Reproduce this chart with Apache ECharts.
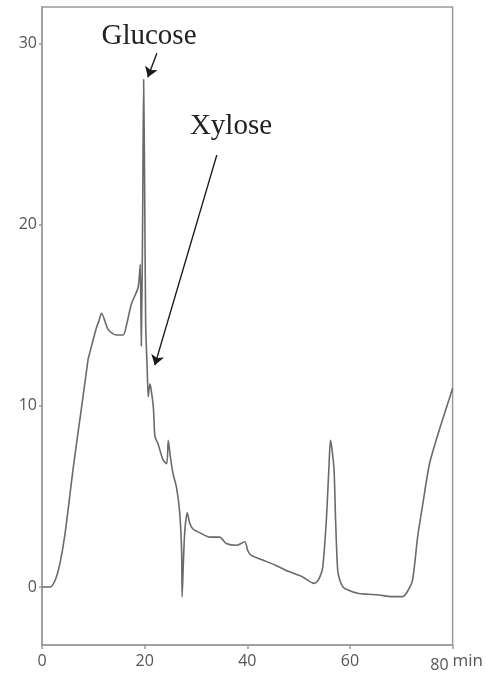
<!DOCTYPE html>
<html><head><meta charset="utf-8">
<script src="https://cdn.jsdelivr.net/npm/echarts@6/dist/echarts.min.js"></script>
<style>html,body{margin:0;padding:0;background:#fff}#c{width:486px;height:679px}</style>
</head><body><div id="c"></div>
<script>
// Retention time (min)
const timeMin = [0, 1.6, 2.6, 3.5, 4.5, 6.1, 7.7, 9.0, 9.1, 10.6, 11.0, 11.6, 12.9, 14.5, 15.8, 16.5, 17.4, 18.7, 19.0, 19.15, 19.35, 19.6, 19.8, 20.0, 20.2, 20.5, 20.7, 21.0, 21.2, 21.7, 22.0, 22.6, 23.6, 24.3, 24.6, 25.0, 25.5, 26.2, 26.8, 27.2, 27.3, 27.5, 27.8, 28.3, 28.8, 29.4, 30.7, 32.7, 34.6, 35.9, 37.9, 39.5, 40.1, 40.7, 42.9, 45.5, 48.1, 50.7, 53.0, 53.6, 54.2, 54.7, 55.4, 55.9, 56.2, 56.5, 56.9, 57.2, 57.6, 58.0, 58.6, 59.5, 61.5, 63.5, 65.6, 68.2, 70.3, 71.3, 72.2, 73.2, 74.2, 75.5, 77.4, 78.8, 80];
// Detector signal
const signal = [0, 0, 0.4, 1.3, 2.96, 6.6, 9.9, 12.6, 12.7, 14.3, 14.6, 15.1, 14.2, 13.9, 13.9, 14.5, 15.6, 16.5, 17.3, 17.8, 13.3, 20.0, 28.0, 22.0, 14.5, 12.0, 10.5, 11.2, 11.0, 9.9, 8.3, 7.9, 7.0, 6.8, 8.1, 7.2, 6.3, 5.5, 4.2, 2.0, -0.53, 1.0, 3.0, 4.1, 3.5, 3.2, 3.0, 2.75, 2.75, 2.4, 2.3, 2.5, 2.0, 1.76, 1.5, 1.2, 0.85, 0.57, 0.2, 0.3, 0.6, 1.1, 3.7, 6.6, 8.1, 7.6, 6.45, 3.7, 0.94, 0.4, 0.02, -0.15, -0.35, -0.4, -0.44, -0.53, -0.53, -0.2, 0.39, 2.8, 4.6, 6.8, 8.66, 9.9, 10.96];
const yTicks = [0, 10, 20, 30];
const annoText = ['Glucose', 'Xylose'];
// arrow annotations: [from, to] in data coords
const glucoseArrow = [[22.37, 29.45], [20.62, 28.13]];
const xyloseArrow = [[34.05, 23.83], [21.98, 12.24]];

const chart = echarts.init(document.getElementById('c'), null, {renderer: 'canvas'});
const axisColor = '#9a9a9a';
const labelColor = '#555';
chart.setOption({
  animation: false,
  backgroundColor: '#fff',
  grid: {left: 42, right: 33, top: 7, bottom: 34, show: true, borderColor: axisColor, borderWidth: 1.5, backgroundColor: 'transparent'},
  xAxis: {
    type: 'value', min: 0, max: 80, interval: 20,
    axisLine: {show: true, onZero: false, lineStyle: {color: axisColor, width: 1.5}},
    axisTick: {show: true, length: 4, lineStyle: {color: axisColor, width: 1.5}},
    splitLine: {show: false},
    axisLabel: {
      color: labelColor, fontFamily: 'Open Sans', fontSize: 16, margin: 8,
      formatter: v => v === 80 ? '{n|80}{u|min}' : String(v),
      rich: {
        n: {color: labelColor, fontFamily: 'Open Sans', fontSize: 16, padding: [0, 0, 0, 8]},
        u: {color: labelColor, fontFamily: 'Open Sans', fontSize: 17, verticalAlign: 'bottom', padding: [0, 0, 8, 4]}
      }
    }
  },
  yAxis: {
    type: 'value', min: -3.2, max: 32,
    axisLine: {show: true, onZero: false, lineStyle: {color: axisColor, width: 1.5}},
    axisTick: {show: true, length: 3, customValues: yTicks, lineStyle: {color: axisColor, width: 1.5}},
    splitLine: {show: false},
    axisLabel: {color: labelColor, fontFamily: 'Open Sans', fontSize: 16, margin: 5, customValues: yTicks}
  },
  series: [{
    type: 'line',
    data: timeMin.map((t, i) => [t, signal[i]]),
    showSymbol: false,
    smooth: 0.25,
    lineStyle: {color: '#6a6a6a', width: 1.6},
    markLine: {
      silent: true,
      symbol: ['none', 'arrow'],
      symbolSize: 10,
      label: {show: false},
      lineStyle: {color: '#1a1a1a', width: 1.4, type: 'solid'},
      data: [
        [{coord: glucoseArrow[0]}, {coord: glucoseArrow[1]}],
        [{coord: xyloseArrow[0]}, {coord: xyloseArrow[1]}]
      ]
    }
  }],
  graphic: [
    {type: 'text', x: 149, y: 36, style: {text: annoText[0], font: '29px "Liberation Serif"', fill: '#222', align: 'center', verticalAlign: 'middle'}},
    {type: 'text', x: 231, y: 126, style: {text: annoText[1], font: '29px "Liberation Serif"', fill: '#222', align: 'center', verticalAlign: 'middle'}}
  ]
});
</script>
</body></html>
